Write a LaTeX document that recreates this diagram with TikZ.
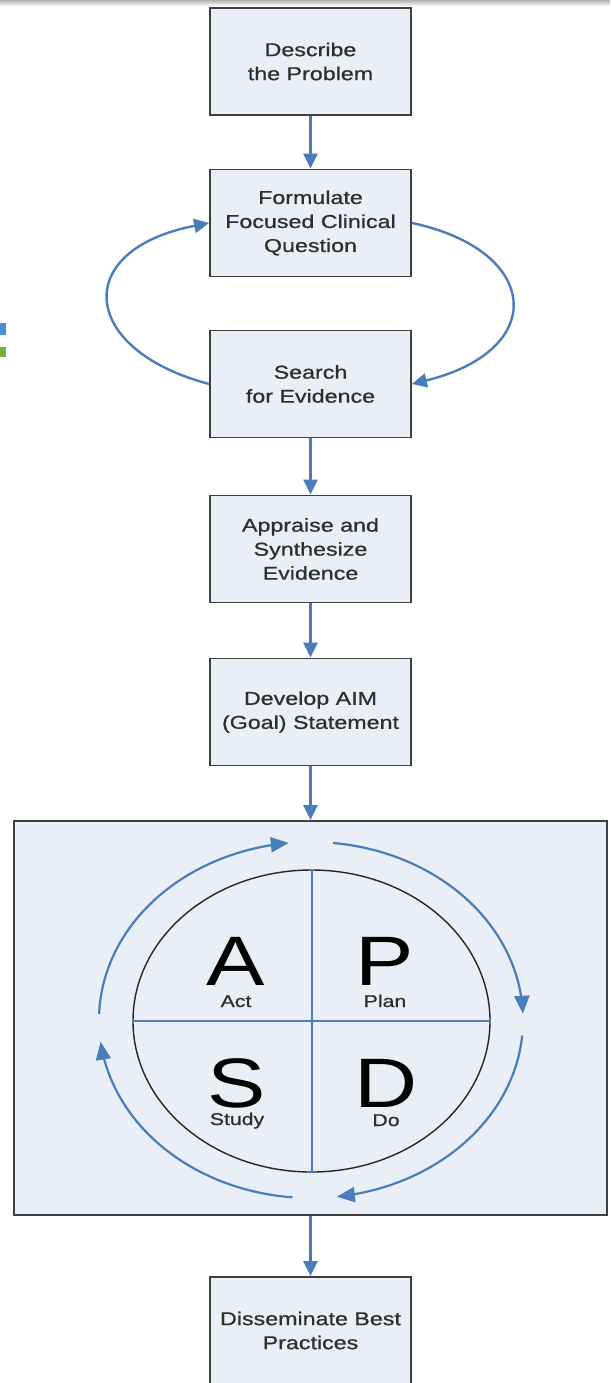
\documentclass[tikz,border=0pt]{standalone}
\usepackage{fontspec}
\setmainfont{Liberation Sans}[FakeStretch=1.25]
\newfontfamily\boxfont{Liberation Sans}[FakeStretch=1.25, FakeBold=0.8]
\usetikzlibrary{arrows.meta,shapes.geometric}
\definecolor{flowblue}{HTML}{4A7EBB}
\definecolor{boxfill}{HTML}{E9EEF7}
\definecolor{boxline}{HTML}{404040}
\definecolor{txt}{HTML}{2E2E2E}
\definecolor{tabblue}{HTML}{4A90D9}
\definecolor{tabgreen}{HTML}{6DB33F}
\begin{document}
\begin{tikzpicture}[x=1pt,y=-1pt,
  stepbox/.style={draw=boxline, line width=1.8pt, fill=boxfill,
    minimum width=201pt, minimum height=107pt, inner sep=0pt,
    align=center, text=txt, font=\boxfont\fontsize{18.6}{24}\selectfont},
  flow/.style={draw=flowblue, line width=2.4pt,
    -{Triangle[length=15pt,width=14pt]}},
  cyc/.style={draw=flowblue, line width=2.2pt,
    -{Triangle[length=18pt,width=15pt]}},
  bigletter/.style={anchor=base, inner sep=0pt, font=\fontsize{70}{70}\selectfont},
  smalllabel/.style={anchor=base, inner sep=0pt, text=txt, font=\boxfont\fontsize{17}{20}\selectfont},
]
\useasboundingbox (0,0) rectangle (610,1383);
\clip (0,0) rectangle (610,1383);
\fill[white] (0,0) rectangle (610,1383);
% screenshot edges
\shade[top color=gray!60, bottom color=white] (0,0) rectangle (610,6);
\fill[tabblue] (0,323) rectangle (6,335);
\fill[tabgreen] (0,347) rectangle (6,357);

% steps
\node[stepbox] (describe) at (310.5,61.5) {Describe\\the Problem};
\node[stepbox] (formulate) at (310.5,223) {Formulate\\Focused Clinical\\Question};
\node[stepbox] (search) at (310.5,384) {Search\\for Evidence};
\node[stepbox] (appraise) at (310.5,549) {Appraise and\\Synthesize\\Evidence};
\node[stepbox] (aim) at (310.5,712) {Develop AIM\\(Goal) Statement};
\node[draw=boxline, line width=1.8pt, fill=boxfill, minimum width=593pt,
      minimum height=394pt, inner sep=0pt] (pdsa) at (310.5,1018) {};
\node[stepbox] (dissem) at (310.5,1330.5) {Disseminate Best\\Practices};

% connectors
\draw[flow] (describe.south) -- (formulate.north);
\draw[flow] (search.south) -- (appraise.north);
\draw[flow] (appraise.south) -- (aim.north);
\draw[flow] (aim.south) -- (pdsa.north);
\draw[flow] (pdsa.south) -- (dissem.north);
\draw[flow] (search.west) .. controls (80,350) and (70,250) .. (formulate.west);
\draw[flow] (formulate.east) .. controls (540,250) and (550,350) .. (search.east);

% PDSA cycle
\node[draw=black!85, line width=1.4pt, ellipse, minimum width=357pt,
      minimum height=302pt, inner sep=0pt] (cycle) at (311.5,1021) {};
\draw[flowblue, line width=2pt] (cycle.north) -- (cycle.south);
\draw[flowblue, line width=2pt] (cycle.west) -- (cycle.east);

\node[bigletter] (A) at (236,985) {A};
\node[bigletter] (P) at (385,985) {P};
\node[bigletter] (S) at (237,1107) {S};
\node[bigletter] (D) at (386,1107) {D};
\node[smalllabel] (act) at (236,1007) {Act};
\node[smalllabel] (plan) at (385,1007) {Plan};
\node[smalllabel] (study) at (237,1125) {Study};
\node[smalllabel] (do) at (386,1126) {Do};

\draw[cyc] plot[smooth, domain=84:2, samples=40] ({311+212*cos(\x)},{1020-178*sin(\x)});
\draw[cyc] plot[smooth, domain=-5:-83, samples=40] ({311+212*cos(\x)},{1020-178*sin(\x)});
\draw[cyc] plot[smooth, domain=-95:-173, samples=40] ({311+212*cos(\x)},{1020-178*sin(\x)});
\draw[cyc] plot[smooth, domain=178:96, samples=40] ({311+212*cos(\x)},{1020-178*sin(\x)});
\end{tikzpicture}
\end{document}
